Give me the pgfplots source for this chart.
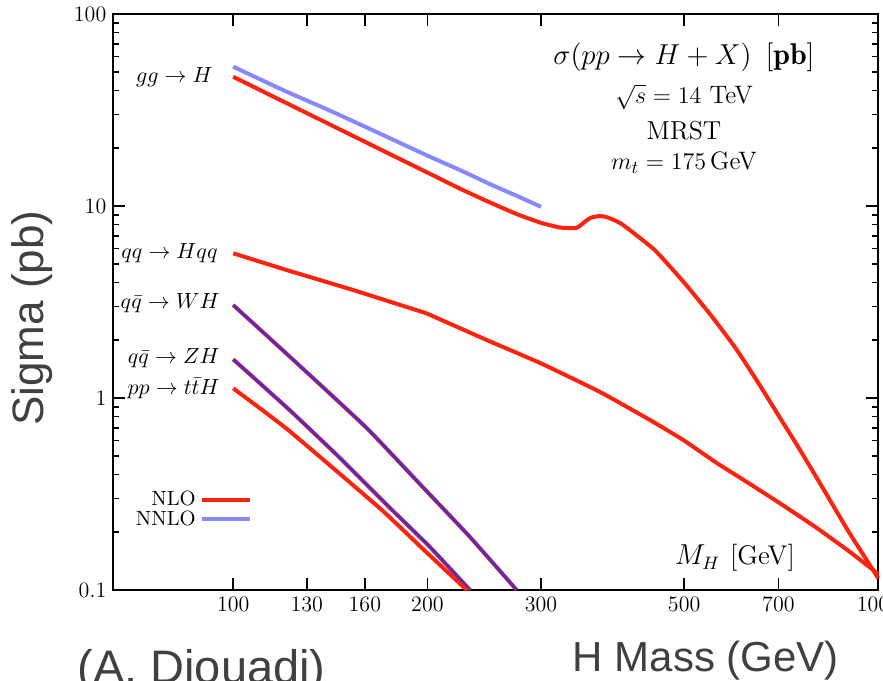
\documentclass[border=0pt]{standalone}
\usepackage{pgfplots}
\pgfplotsset{compat=1.18}
\usepackage{fontspec}
\newfontfamily\arialfont{Liberation Sans}
\definecolor{nlored}{RGB}{255,35,15}
\definecolor{nnloblue}{RGB}{135,135,255}
\definecolor{purp}{RGB}{85,45,190}
\definecolor{labgray}{RGB}{64,64,64}
\begin{document}
\begin{tikzpicture}[x=1pt,y=1pt]
\useasboundingbox (0,0) rectangle (441.5,340);
\begin{axis}[
  at={(56.67pt,45pt)}, anchor=south west,
  width=382.5pt, height=288pt, scale only axis,
  xmode=log, ymode=log,
  xmin=65.2, xmax=1000, ymin=0.1, ymax=100,
  xtick={100,130,160,200,300,500,700,1000},
  xticklabels={100,130,160,200,300,500,700,1000},
  xminorticks=false,
  ytick={0.1,1,10,100},
  yticklabels={0.1,1,10,100},
  yminorticks=true,
  minor ytick={0.2,0.3,0.4,0.5,0.6,0.7,0.8,0.9,2,3,4,5,6,7,8,9,20,30,40,50,60,70,80,90},
  tick align=inside,
  major tick length=6pt, minor tick length=3pt,
  every tick/.style={black, line width=0.8pt},
  axis line style={line width=1pt},
  tick label style={font=\fontsize{11}{13}\selectfont},
  clip=false,
  legend plot pos=right,
  legend cell align=right,
  legend style={at={(axis description cs:0.1813,0.1398)}, anchor=east, draw=none, fill=none,
    font=\fontsize{10.3}{10}\selectfont, row sep=-3pt, inner sep=0pt},
  legend image code/.code={\draw[#1] (0pt,0pt) -- (24pt,0pt);},
]
\addplot[nlored, line width=2pt, smooth, tension=0.3] coordinates {
 (100,47.1) (120,34.8) (140,26.96) (160,21.6) (200,14.93) (225,12.28) (250,10.43)
 (275,9.08) (300,8.17) (320,7.74) (330,7.68) (340,7.68) (345,7.91) (355,8.53)
 (360,8.73) (370,8.87) (380,8.73) (400,8.06) (450,5.90) (500,3.99) (550,2.70)
 (600,1.83) (650,1.214) (700,0.813) (750,0.561) (800,0.391) (900,0.2005) (1000,0.115)};
\addlegendentry{NLO}
\addplot[nnloblue, line width=2pt, smooth, tension=0.3] coordinates {
 (100,53.2) (120,39.9) (140,31.8) (160,25.9) (200,18.3) (225,15.35) (250,13.0)
 (275,11.3) (300,9.9)};
\addlegendentry{NNLO}
% qq -> Hqq
\addplot[nlored, line width=2pt, forget plot] coordinates {
 (100,5.67) (121,4.64) (153.5,3.65) (199.4,2.76)};
\addplot[nlored, line width=2pt, forget plot, smooth, tension=0.3] coordinates {
 (199.4,2.76) (247.1,2.005) (300,1.514) (370.3,1.075) (442.6,0.768) (498.5,0.604)
 (561.7,0.4587) (632.6,0.3565) (712.3,0.2755) (802.8,0.2103) (903.9,0.1577) (1000,0.121)};
% WH
\addplot[nlored, line width=2pt, forget plot, smooth, tension=0.3] coordinates {
 (100,3.05) (126.9,1.468) (161,0.698) (194.7,0.3565) (232.8,0.1888) (275,0.1)};
\addplot[purp, line width=1.4pt, forget plot, smooth, tension=0.3] coordinates {
 (100,3.05) (126.9,1.468) (161,0.698) (194.7,0.3565) (232.8,0.1888) (275,0.1)};
% ZH
\addplot[nlored, line width=2pt, forget plot, smooth, tension=0.3] coordinates {
 (100,1.59) (122.4,0.863) (146.3,0.488) (174.9,0.268) (201.8,0.1675) (232.8,0.1)};
\addplot[purp, line width=1.4pt, forget plot, smooth, tension=0.3] coordinates {
 (100,1.59) (122.4,0.863) (146.3,0.488) (174.9,0.268) (201.8,0.1675) (232.8,0.1)};
% ttH
\addplot[nlored, line width=2pt, forget plot, smooth, tension=0.3] coordinates {
 (100,1.123) (121.7,0.681) (168.8,0.2664) (198.2,0.160) (230.1,0.1)};
\end{axis}
% process labels
\begin{scope}[every node/.style={anchor=east, inner sep=0pt, font=\fontsize{10.5}{12}\selectfont}]
\node at (106.5,301.5) {$gg \to H$};
\node at (109,213.5) {$qq \to Hqq$};
\node at (110,188.5) {$q\bar{q} \to WH$};
\node at (110,161) {$q\bar{q} \to ZH$};
\node at (110,146) {$pp \to t\bar{t}H$};
\end{scope}
% info block
\node[anchor=base, font=\fontsize{15}{18}\selectfont] at (342,307.9) {$\sigma(pp \to H+X)$\hspace{7pt}$[\mathbf{pb}]$};
\node[anchor=base, font=\fontsize{12.6}{15}\selectfont] at (342,288.2) {$\sqrt{s}=14$ TeV};
\node[anchor=base, font=\fontsize{13}{15}\selectfont] at (342,270) {MRST};
\node[anchor=base, font=\fontsize{12.6}{15}\selectfont] at (342,255) {$m_t = 175\,$GeV};
\node[anchor=base, font=\fontsize{13.5}{16}\selectfont] at (367.5,57.5) {$M_H$\hspace{5pt}[GeV]};
% outer labels
\node[rotate=90, font=\arialfont\fontsize{22}{26}\selectfont, text=labgray] at (16,181) {Sigma (pb)};
\node[anchor=base, font=\arialfont\fontsize{21}{25}\selectfont, text=labgray] at (353,4.2) {H Mass (GeV)};
\node[anchor=base, font=\arialfont\fontsize{23.5}{27}\selectfont, text=labgray] at (100.8,-1.5) {(A. Djouadi)};
\end{tikzpicture}
\end{document}
